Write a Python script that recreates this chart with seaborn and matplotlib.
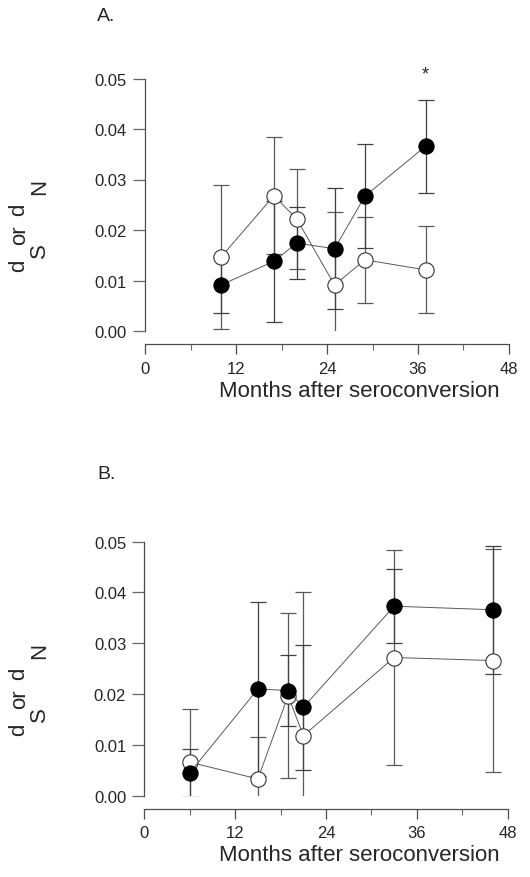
import pandas as pd
import matplotlib.pyplot as plt
import seaborn as sns

# Panel A data
a_months = [10, 17, 20, 25, 29, 37]
a_filled = [0.0091, 0.0138, 0.0174, 0.0163, 0.0267, 0.0366]
a_filled_err = [0.0055, 0.0120, 0.0072, 0.0120, 0.0103, 0.0092]
a_open = [0.0146, 0.0268, 0.0222, 0.0091, 0.0141, 0.0121]
a_open_err = [0.0143, 0.0116, 0.0099, 0.0144, 0.0085, 0.0086]

# Panel B data
b_months = [6, 15, 19, 21, 33, 46]
b_filled = [0.0045, 0.0210, 0.0207, 0.0174, 0.0373, 0.0366]
b_filled_err = [0.0047, 0.0172, 0.0070, 0.0123, 0.0073, 0.0126]
b_open = [0.0066, 0.0033, 0.0197, 0.0118, 0.0272, 0.0266]
b_open_err = [0.0105, 0.0083, 0.0163, 0.0282, 0.0211, 0.0220]

x_ticks = [0, 12, 24, 36, 48]
y_ticks = [0.00, 0.01, 0.02, 0.03, 0.04, 0.05]
y_ticklabels = ["0.00", "0.01", "0.02", "0.03", "0.04", "0.05"]

sns.set_style("ticks")
plt.rcParams["font.family"] = ["Liberation Sans", "DejaVu Sans"]

W, H = 530, 878
fig = plt.figure(figsize=(W / 100, H / 100), dpi=100)


def px_box(left, right, bottom, top):
    return [left / W, 1 - bottom / H, (right - left) / W, (bottom - top) / H]


def draw_panel(ax, months, filled, filled_err, opn, opn_err):
    df = pd.DataFrame({"month": months, "filled": filled, "open": opn})
    ax.errorbar(months, opn, yerr=opn_err, fmt="none", ecolor="0.35",
                elinewidth=0.9, capsize=6, capthick=0.9, zorder=1)
    ax.errorbar(months, filled, yerr=filled_err, fmt="none", ecolor="0.25",
                elinewidth=0.9, capsize=6, capthick=0.9, zorder=1)
    sns.lineplot(data=df, x="month", y="open", ax=ax, color="0.35", lw=0.7,
                 marker="o", markersize=11, markerfacecolor="white",
                 markeredgecolor="0.2", markeredgewidth=0.8, zorder=2)
    sns.lineplot(data=df, x="month", y="filled", ax=ax, color="0.35", lw=0.7,
                 marker="o", markersize=11, markerfacecolor="black",
                 markeredgecolor="black", zorder=3)
    ax.set_xlim(0, 48)
    ax.set_ylim(0, 0.052)
    ax.set_xticks(x_ticks)
    ax.set_xticks([6, 18, 30, 42], minor=True)
    ax.set_yticks(y_ticks)
    ax.set_yticklabels(y_ticklabels)
    ax.set_xlabel("")
    ax.set_ylabel("")
    sns.despine(ax=ax)
    ax.spines["bottom"].set_position(("outward", 9.4))
    ax.spines["bottom"].set_bounds(0, 48)
    ax.spines["left"].set_bounds(0, 0.05)
    for s in ["bottom", "left"]:
        ax.spines[s].set_color("0.3")
        ax.spines[s].set_linewidth(0.9)
    ax.tick_params(axis="x", which="major", length=7, width=0.9,
                   color="0.3", labelsize=12, pad=5)
    ax.tick_params(axis="x", which="minor", length=4, width=0.8, color="0.4")
    ax.tick_params(axis="y", length=9, width=0.9, color="0.4",
                   labelsize=12, pad=4)


ax_a = fig.add_axes(px_box(145, 509, 332, 69.4))
draw_panel(ax_a, a_months, a_filled, a_filled_err, a_open, a_open_err)
ax_a.text(37, 0.0508, "*", ha="center", va="center", fontsize=13)

ax_b = fig.add_axes(px_box(144.3, 507.7, 796.7, 532.5))
draw_panel(ax_b, b_months, b_filled, b_filled_err, b_open, b_open_err)


def ftext(x, y, s, **kw):
    fig.text(x / W, 1 - y / H, s, **kw)


for dy, name in [(0, "A."), (458, "B.")]:
    ftext(97, 16.5 + dy, name, fontsize=14, ha="left", va="center")

for dy in [0, 464]:
    ftext(359, 392 + dy, "Months after seroconversion", fontsize=16,
          ha="center", va="center")
    # y label: d_S or d_N, rotated
    for x, y, s in [(18.5, 266, "d"), (39.5, 251, "S"), (20, 235, "or"),
                    (18.5, 210, "d"), (40, 186.5, "N")]:
        ftext(x, y + dy, s, fontsize=16, rotation=90, ha="center", va="center")

plt.savefig("out.png", dpi=100)
plt.close()
